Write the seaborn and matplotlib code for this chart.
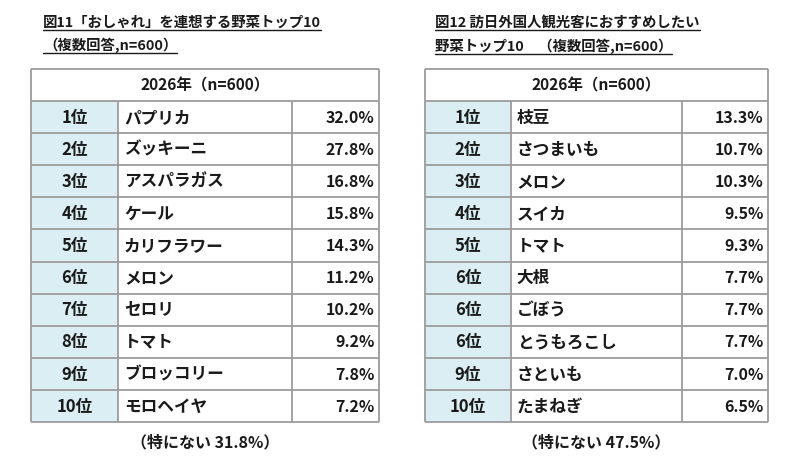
import matplotlib
matplotlib.use("Agg")
import matplotlib.pyplot as plt
from matplotlib.colors import ListedColormap
from matplotlib.patches import Rectangle
import numpy as np
import seaborn as sns

# 図11 「おしゃれ」を連想する野菜
left_ranks = ["1位", "2位", "3位", "4位", "5位", "6位", "7位", "8位", "9位", "10位"]
left_names = ["パプリカ", "ズッキーニ", "アスパラガス", "ケール", "カリフラワー",
              "メロン", "セロリ", "トマト", "ブロッコリー", "モロヘイヤ"]
left_values = [32.0, 27.8, 16.8, 15.8, 14.3, 11.2, 10.2, 9.2, 7.8, 7.2]
left_none = 31.8

# 図12 訪日外国人観光客におすすめしたい野菜
right_ranks = ["1位", "2位", "3位", "4位", "5位", "6位", "6位", "6位", "9位", "10位"]
right_names = ["枝豆", "さつまいも", "メロン", "スイカ", "トマト",
               "大根", "ごぼう", "とうもろこし", "さといも", "たまねぎ"]
right_values = [13.3, 10.7, 10.3, 9.5, 9.3, 7.7, 7.7, 7.7, 7.0, 6.5]
right_none = 47.5

header = "2026年（n=600）"
left_title = ["図11「おしゃれ」を連想する野菜トップ10", "（複数回答,n=600）"]
right_title = ["図12 訪日外国人観光客におすすめしたい", "野菜トップ10　（複数回答,n=600）"]

sns.set_theme(style="white")
plt.rcParams['font.family'] = ['Noto Sans CJK JP', 'DejaVu Sans']

W, H = 800, 466
fig = plt.figure(figsize=(8, 4.66), dpi=100)
fig.patch.set_facecolor("white")

LINE = "#9c9c9c"
BLUE = "#daeef3"
INK = "#1a1a1a"


def px_axes(x0, y0, x1, y1):
    return fig.add_axes([x0 / W, 1 - y1 / H, (x1 - x0) / W, (y1 - y0) / H])


def draw_table(box, ranks, names, values, none_val):
    ax = px_axes(*box)
    n = len(ranks)
    # rank column blue, name spans two cells, value one cell
    mat = np.zeros((n, 4))
    mat[:, 0] = 1
    sns.heatmap(mat, ax=ax, cmap=ListedColormap(["white", BLUE]), vmin=0, vmax=1,
                cbar=False, linewidths=0, xticklabels=False, yticklabels=False)
    ax.set_xlim(0, 4)
    ax.set_ylim(n, -1)
    ax.add_patch(Rectangle((0, -1), 4, 1, facecolor="white", edgecolor="none"))

    ax.hlines(np.arange(-1, n + 1), 0, 4, color=LINE, lw=1.3, clip_on=False)
    ax.vlines([1, 3], 0, n, color=LINE, lw=1.3, clip_on=False)
    ax.vlines([0, 4], -1, n, color=LINE, lw=1.3, clip_on=False)

    ax.text(2, -0.5, header, ha="center", va="center", fontsize=11.2,
            fontweight="bold", color=INK)
    for i, (r, nm, v) in enumerate(zip(ranks, names, values)):
        y = i + 0.52
        ax.text(0.5, y, r, ha="center", va="center", fontsize=12,
                fontweight="bold", color=INK)
        ax.text(1.07, y, nm, ha="left", va="center", fontsize=12,
                fontweight="bold", color=INK)
        ax.text(3.95, y, f"{v:.1f}%", ha="right", va="center", fontsize=11.5,
                fontweight="bold", color=INK)
    ax.text(2, n + 0.65, f"（特にない {none_val:.1f}%）", ha="center", va="center",
            fontsize=11.5, fontweight="bold", color=INK)
    return ax


def draw_title(x, ys, lines):
    r = fig.canvas.get_renderer()
    for y, line in zip(ys, lines):
        t = fig.text(x / W, 1 - y / H, line, ha="left", va="baseline", fontsize=10.4,
                     fontweight="bold", color=INK)
        bb = t.get_window_extent(renderer=r)
        uy = 1 - (y + 3) / H
        fig.add_artist(plt.Line2D([bb.x0 / W, bb.x1 / W], [uy, uy],
                                  color=INK, lw=1.0))


draw_table((31, 69, 379, 422), left_ranks, left_names, left_values, left_none)
draw_table((425, 69, 768, 422), right_ranks, right_names, right_values, right_none)

draw_title(43, [27, 50], left_title)
draw_title(435, [27, 51], right_title)

fig.savefig("out.png", dpi=100, facecolor="white")
